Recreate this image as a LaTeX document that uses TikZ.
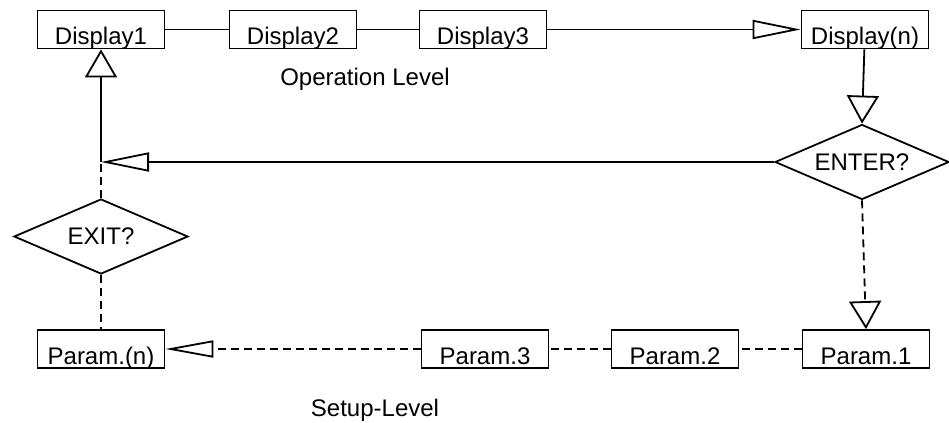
\documentclass[tikz,border=0pt]{standalone}
\usepackage{fontspec}
\setmainfont{Liberation Sans}
\usetikzlibrary{arrows.meta}
\usetikzlibrary{shapes.geometric}
\tikzset{
  disp/.style={rectangle, draw, line width=0.9pt, minimum width=63.5pt, inner xsep=0pt, inner ysep=0pt, text height=17pt, text depth=2pt},
  ask/.style={diamond, draw, line width=0.9pt, inner sep=0pt, shape aspect=2.3, minimum width=87pt, minimum height=37.5pt},
  wire/.style={line width=0.9pt},
  dwire/.style={line width=0.9pt, dash pattern=on 4pt off 2.5pt},
  hhead/.style={-{Triangle[open, length=24pt, width=9.5pt]}},
  vhead/.style={-{Triangle[open, length=14pt, width=16pt]}},
}

\begin{document}
\begin{tikzpicture}[x=0.5pt, y=-0.5pt, font=\fontsize{12}{14}\selectfont]
\useasboundingbox (0,0) rectangle (949,423);

\node[disp] (D1) at (101,29.5) {Display1};
\node[disp] (D2) at (293,29.5) {Display2};
\node[disp] (D3) at (483,29.5) {Display3};
\node[disp] (Dn) at (865,29.5) {Display(n)};

\node[ask] (enter) at (862,162) {ENTER?};
\node[ask] (exit) at (101,236.5) {EXIT?};
\coordinate (join) at (101,162);

\node[disp] (Pn) at (101,349) {Param.(n)};
\node[disp] (P3) at (485,349) {Param.3};
\node[disp] (P2) at (675,349) {Param.2};
\node[disp] (P1) at (866,349) {Param.1};

\node (oplevel) at (365,79) {Operation Level};
\node (setlevel) at (375,410) {Setup-Level};

\draw[wire] (D1) -- (D2);
\draw[wire] (D2) -- (D3);
\draw[wire, hhead] (D3) -- (Dn);
\draw[wire, vhead] (Dn) -- (enter.north);
\draw[wire, hhead] (enter.west) -- (join);
\draw[wire, vhead] (join) -- (D1.south);
\draw[dwire] (exit.north) -- (join);
\draw[dwire] (exit.south) -- (Pn.north);
\draw[dwire, vhead] (enter.south) -- (P1.north);
\draw[dwire] (P1) -- (P2);
\draw[dwire] (P2) -- (P3);
\draw[dwire, {-{Triangle[open, length=24pt, width=8.5pt]}}] (P3) -- (Pn);
\end{tikzpicture}
\end{document}
